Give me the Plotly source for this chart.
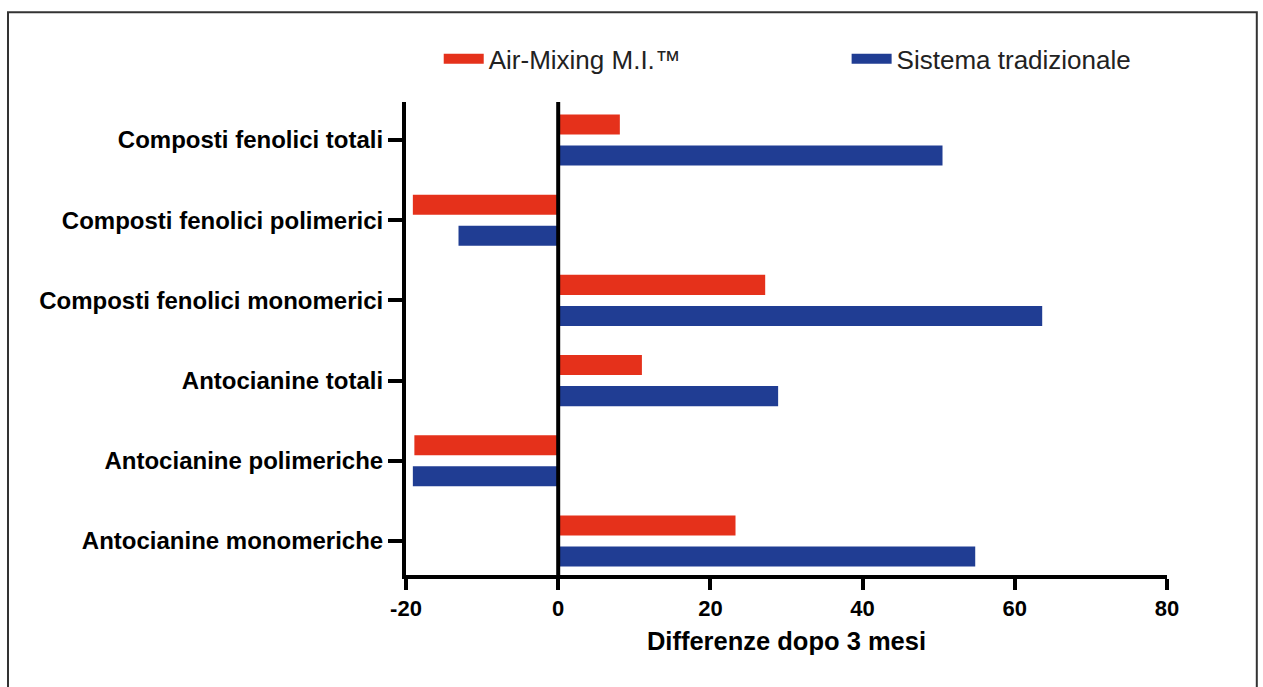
import plotly.graph_objects as go

categories = [
    "Composti fenolici totali",
    "Composti fenolici polimerici",
    "Composti fenolici monomerici",
    "Antocianine totali",
    "Antocianine polimeriche",
    "Antocianine monomeriche",
]
air_mixing = [8.1, -19.1, 27.2, 11.0, -18.9, 23.3]
tradizionale = [50.5, -13.1, 63.6, 28.9, -19.1, 54.8]
series_names = ["Air-Mixing M.I.™", "Sistema tradizionale"]
x_ticks = [-20, 0, 20, 40, 60, 80]
x_tick_labels = ["-20", "0", "20", "40", "60", "80"]

RED = "#E5311B"
BLUE = "#203D93"
FONT = "Liberation Sans, Arial, sans-serif"

fig = go.Figure()
fig.add_trace(go.Bar(y=categories, x=air_mixing, orientation="h", name=series_names[0],
                     marker=dict(color=RED, line=dict(width=0)), showlegend=False))
fig.add_trace(go.Bar(y=categories, x=tradizionale, orientation="h", name=series_names[1],
                     marker=dict(color=BLUE, line=dict(width=0)), showlegend=False))
# legend entries drawn as wide rectangles, each in its own legend box
for nm, col, lg in zip(series_names, [RED, BLUE], ["legend", "legend2"]):
    fig.add_trace(go.Scatter(x=[None], y=[None], mode="lines", name=nm,
                             line=dict(color=col, width=18), showlegend=True,
                             legend=lg, hoverinfo="skip"))

legend_common = dict(orientation="h", yanchor="middle", xanchor="left",
                     bgcolor="rgba(0,0,0,0)", itemwidth=40,
                     font=dict(size=26, color="#222", family=FONT))

fig.update_layout(
    width=1263, height=687,
    margin=dict(l=406, r=96, t=102, b=112),
    paper_bgcolor="white", plot_bgcolor="white",
    barmode="group", bargap=0.225, bargroupgap=0.355,
    font=dict(family=FONT, color="black"),
    legend=dict(x=0.043, y=1.091, **legend_common),
    legend2=dict(x=0.579, y=1.091, **legend_common),
    xaxis=dict(range=[-20, 80], tickvals=x_ticks, ticktext=x_tick_labels, showgrid=False,
               showline=True, linecolor="black", linewidth=4,
               ticks="outside", ticklen=11, tickwidth=4, tickcolor="black",
               tickfont=dict(size=22, family=FONT, color="black", weight="bold"),
               zeroline=False,
               title=dict(text="<b>Differenze dopo 3 mesi</b>", standoff=13,
                          font=dict(size=25.5, family=FONT, color="black"))),
    yaxis=dict(categoryorder="array", categoryarray=categories,
               range=[5.424, -0.474], showgrid=False,
               showline=True, linecolor="black", linewidth=4,
               ticks="outside", ticklen=14, tickwidth=4, tickcolor="black",
               tickfont=dict(size=24, family=FONT, color="black", weight="bold"),
               zeroline=False),
    shapes=[
        dict(type="rect", xref="paper", yref="paper",
             x0=-0.523, x1=1.118, y0=-0.35, y1=1.190,
             line=dict(color="#333", width=2), fillcolor="rgba(0,0,0,0)",
             layer="below"),
        dict(type="line", xref="x", yref="paper", x0=0, x1=0, y0=0, y1=1,
             line=dict(color="black", width=4), layer="above"),
    ],
)

fig.write_html("out.html", config={"displayModeBar": False},
               post_script="document.body.style.margin='0px';")
